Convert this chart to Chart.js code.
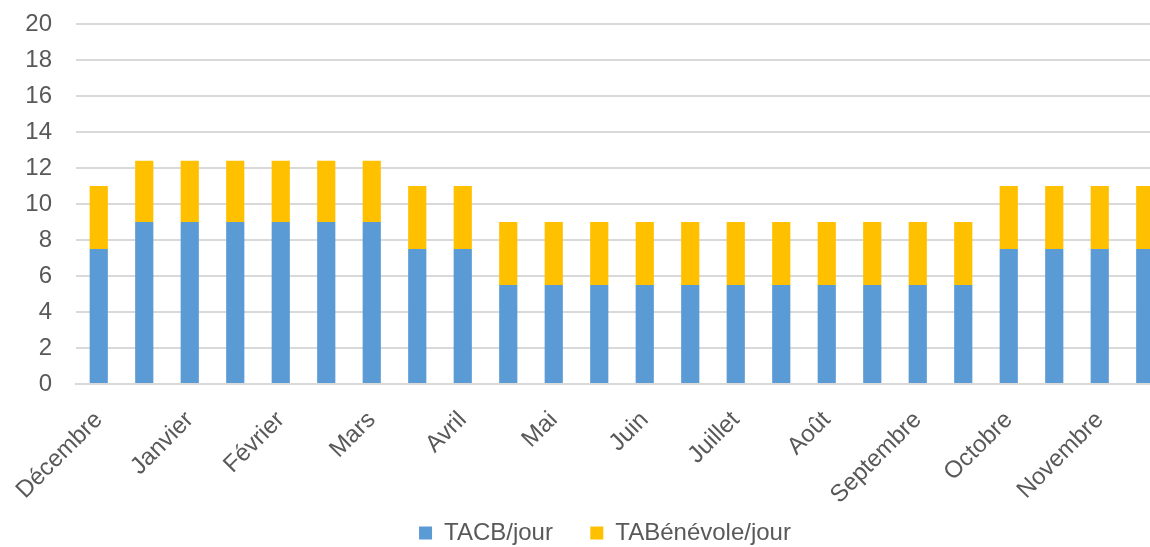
<!DOCTYPE html>
<html>
<head>
<meta charset="utf-8">
<script src="https://cdn.jsdelivr.net/npm/chart.js@4/dist/chart.umd.min.js"></script>
<style>
  body { margin: 0; overflow: hidden; background: #fff; }
  #wrap { width: 1228px; height: 555px; }
</style>
</head>
<body>
<div id="wrap"><canvas id="chart"></canvas></div>
<script>
// two bars per month, label on the first one
const categories = ['Décembre', '', 'Janvier', '', 'Février', '', 'Mars', '', 'Avril', '', 'Mai', '',
  'Juin', '', 'Juillet', '', 'Août', '', 'Septembre', '', 'Octobre', '', 'Novembre', ''];
const tacbJour = [7.5, 9, 9, 9, 9, 9, 9, 7.5, 7.5, 5.5, 5.5, 5.5,
  5.5, 5.5, 5.5, 5.5, 5.5, 5.5, 5.5, 5.5, 7.5, 7.5, 7.5, 7.5];
const benevoleJour = [3.5, 3.4, 3.4, 3.4, 3.4, 3.4, 3.4, 3.5, 3.5, 3.5, 3.5, 3.5,
  3.5, 3.5, 3.5, 3.5, 3.5, 3.5, 3.5, 3.5, 3.5, 3.5, 3.5, 3.5];
const yTicks = [0, 2, 4, 6, 8, 10, 12, 14, 16, 18, 20];

// the plot runs past the right edge of the picture, legend stays centred on the visible part
const shiftLegend = {
  id: 'shiftLegend',
  afterLayout(chart) {
    chart.legend.left += 21;
    chart.legend.right += 21;
  }
};

const ctx = document.getElementById('chart').getContext('2d');
new Chart(ctx, {
  type: 'bar',
  data: {
    labels: categories,
    datasets: [{
      label: 'TACB/jour',
      data: tacbJour,
      backgroundColor: '#5b9bd5',
      barPercentage: 0.4,
      categoryPercentage: 1
    }, {
      label: 'TABénévole/jour',
      data: benevoleJour,
      backgroundColor: '#ffc000',
      barPercentage: 0.4,
      categoryPercentage: 1
    }]
  },
  options: {
    responsive: true,
    maintainAspectRatio: false,
    animation: false,
    layout: {
      autoPadding: false,
      padding: { left: 0, right: 60, top: 24, bottom: 0 }
    },
    scales: {
      x: {
        stacked: true,
        afterFit: (axis) => {
          axis.height = 133;
          axis.paddingLeft = 0;
          axis.paddingRight = 0;
        },
        grid: { display: false },
        border: { color: '#d9d9d9', width: 2 },
        ticks: {
          autoSkip: false,
          maxRotation: 45,
          minRotation: 45,
          padding: 14,
          color: '#595959',
          font: { family: 'Liberation Sans', size: 24 }
        }
      },
      y: {
        stacked: true,
        min: 0,
        max: 20,
        afterBuildTicks: (axis) => { axis.ticks = yTicks.map(v => ({ value: v })); },
        afterFit: (axis) => {
          axis.width = 76;
          axis.paddingTop = 0;
          axis.paddingBottom = 0;
        },
        grid: { color: '#d9d9d9', lineWidth: 2, drawTicks: false },
        border: { display: false },
        ticks: {
          autoSkip: false,
          padding: 24,
          color: '#595959',
          font: { family: 'Liberation Sans', size: 24 }
        }
      }
    },
    plugins: {
      tooltip: { enabled: false },
      legend: {
        position: 'bottom',
        labels: {
          boxWidth: 13,
          boxHeight: 13,
          padding: 4,
          color: '#595959',
          font: { family: 'Liberation Sans', size: 24 },
          // small vertical padding, gap between the two items kept with spaces
          generateLabels: (chart) => {
            const items = Chart.defaults.plugins.legend.labels.generateLabels(chart);
            items[0].text = items[0].text + '\u00a0'.repeat(5);
            return items;
          }
        }
      }
    }
  },
  plugins: [shiftLegend]
});
</script>
</body>
</html>
